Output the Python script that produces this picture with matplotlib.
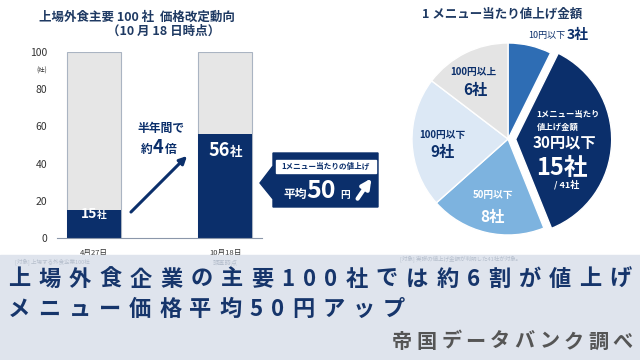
import matplotlib
matplotlib.use('Agg')
import matplotlib.pyplot as plt
from matplotlib.patches import Polygon, Rectangle

plt.rcParams['font.family'] = ['Noto Sans CJK JP', 'DejaVu Sans']

# 棒グラフ: 価格改定した企業数 (100社中)
bar_dates = ['4月27日', '10月18日']
bar_values = [15, 56]
bar_total = [100, 100]

# 円グラフ: 1メニュー当たり値上げ金額 (41社)
pie_labels = ['10円以下', '30円以下', '50円以下', '100円以下', '100円以上']
pie_counts = [3, 15, 8, 9, 6]
pie_colors = ['#2e6db4', '#0b2f6b', '#7db3df', '#dce8f5', '#e4e4e4']

NAVY = '#0b2f6b'
TITLE = '#1f3a63'

fig = plt.figure(figsize=(6.4, 3.6), dpi=100)

# 全体用の重ね軸 (ピクセル座標)
ax0 = fig.add_axes([0, 0, 1, 1], zorder=5)
ax0.set_xlim(0, 640)
ax0.set_ylim(360, 0)
ax0.axis('off')

# --- 棒グラフ ---
ax = fig.add_axes([57 / 640, 1 - 238 / 360, 205 / 640, 186 / 360])
x = list(range(len(bar_dates)))
ax.bar(x, bar_total, width=0.41, color='#e6e6e6', edgecolor='#aab4c2', linewidth=0.8)
ax.bar(x, bar_values, width=0.41, color=NAVY)
ax.set_xlim(-0.281, 1.278)
ax.set_ylim(0, 100)
ax.set_yticks(range(0, 101, 20))
ax.set_xticks(x, bar_dates)
ax.tick_params(axis='y', length=0, labelsize=7.5, labelcolor='#333333', pad=7)
ax.tick_params(axis='x', length=0, labelsize=5.5, labelcolor='#333333', pad=8)
for s in ['top', 'right', 'left']:
    ax.spines[s].set_visible(False)
ax.spines['bottom'].set_color('#8b97aa')
ax.patch.set_alpha(0)

for i, v in enumerate(bar_values):
    big = v > 30
    yb = v - min(v * 0.3, 12)
    ax.annotate(str(v), (i, yb), xytext=(3.2 if big else 2.2, 0), textcoords='offset points',
                ha='right', va='baseline', color='white', weight='bold', fontsize=13 if big else 10)
    ax.annotate('社', (i, yb), xytext=(3.2 if big else 2.2, 0), textcoords='offset points',
                ha='left', va='baseline', color='white', weight='bold', fontsize=9 if big else 7)

ax0.text(137, 17, '上場外食主要 100 社  価格改定動向', ha='center', va='center',
         fontsize=9, weight='bold', color=TITLE)
ax0.text(164, 31, '（10 月 18 日時点）', ha='center', va='center',
         fontsize=9, weight='bold', color=TITLE)
ax0.text(42, 71, '(社)', ha='center', va='center', fontsize=4.5, color='#333333')

# 半年間で約4倍
ax0.annotate('', xy=(189, 154), xytext=(129, 214),
             arrowprops=dict(arrowstyle='-|>', color=NAVY, lw=2.2, mutation_scale=11))
ax0.text(161, 128, '半年間で', ha='center', va='center', fontsize=8.5, weight='bold', color=NAVY)
ax0.text(147, 153, '約', ha='center', va='baseline', fontsize=8.5, weight='bold', color=NAVY)
ax0.text(158, 153, '4', ha='center', va='baseline', fontsize=13, weight='bold', color=NAVY)
ax0.text(171, 153, '倍', ha='center', va='baseline', fontsize=8.5, weight='bold', color=NAVY)

# 吹き出し
ax0.add_patch(Polygon([(273, 153), (378, 153), (378, 207), (273, 207), (273, 199),
                       (260, 183), (273, 166)], closed=True, color=NAVY))
ax0.add_patch(Rectangle((276, 160), 100, 13, color='white'))
ax0.text(326, 166.5, '1メニュー当たりの値上げ', ha='center', va='center',
         fontsize=5.5, weight='bold', color=NAVY)
ax0.text(295, 198, '平均', ha='center', va='baseline', fontsize=8.5, weight='bold', color='white')
ax0.text(321.5, 198, '50', ha='center', va='baseline', fontsize=18, weight='bold', color='white')
ax0.text(345, 198, '円', ha='center', va='baseline', fontsize=7, weight='bold', color='white')
ax0.annotate('', xy=(373, 176), xytext=(356, 201),
             arrowprops=dict(arrowstyle='-|>', color='white', lw=3, mutation_scale=14))

# --- 円グラフ ---
axp = fig.add_axes([412 / 640, 1 - 235 / 360, 192 / 640, 192 / 360])
wedges, _ = axp.pie(pie_counts, colors=pie_colors, startangle=90, counterclock=False,
                    explode=[0, 0.08, 0, 0, 0], radius=1,
                    wedgeprops=dict(edgecolor='white', linewidth=1))
for w in wedges:
    w.set_clip_on(False)
axp.set_xlim(-1, 1)
axp.set_ylim(-1, 1)
axp.set_aspect('equal')

ax0.text(502, 14, '1 メニュー当たり値上げ金額', ha='center', va='center',
         fontsize=9, weight='bold', color=TITLE)


def pie_text(px, py, s, size, color, bold=False, ha='center'):
    axp.text(px, py, s, ha=ha, va='center', fontsize=size, color=color,
             weight='bold' if bold else 'normal', clip_on=False)


pie_text(0.40, 1.08, pie_labels[0], 6.5, NAVY)
pie_text(0.73, 1.08, f'{pie_counts[0]}社', 10, NAVY, True)
pie_text(0.30, 0.25, '1メニュー当たり', 6, 'white', True, ha='left')
pie_text(0.30, 0.12, '値上げ金額', 6, 'white', True, ha='left')
pie_text(0.59, -0.04, pie_labels[1], 11, 'white', True)
pie_text(0.56, -0.30, f'{pie_counts[1]}社', 17, 'white', True)
pie_text(0.61, -0.48, f'/ {sum(pie_counts)}社', 6.5, 'white', True)
pie_text(-0.16, -0.58, pie_labels[2], 7, 'white', True)
pie_text(-0.16, -0.81, f'{pie_counts[2]}社', 11, 'white', True)
pie_text(-0.68, 0.04, pie_labels[3], 7, NAVY, True)
pie_text(-0.68, -0.14, f'{pie_counts[3]}社', 11, NAVY, True)
pie_text(-0.36, 0.70, pie_labels[4], 7, NAVY, True)
pie_text(-0.34, 0.51, f'{pie_counts[4]}社', 11, NAVY, True)

# --- 下部の帯 ---
ax0.add_patch(Rectangle((0, 255), 640, 105, color='#dfe4ed', zorder=0))
ax0.text(15, 262, '[対象] 上場する外食企業100社', ha='left', va='center', fontsize=4, color='#b6bfcd')
ax0.text(225, 262, '調査時点', ha='center', va='center', fontsize=4.5, color='#b6bfcd')
ax0.text(400, 259, '[対象] 実際の値上げ金額が判明した41社が対象。', ha='left', va='center',
         fontsize=4, color='#b6bfcd')

renderer = fig.canvas.get_renderer()


def spaced_text(s, x0, y, x1, **kw):
    items = [ax0.text(0, y, ch, ha='left', va='center', **kw) for ch in s]
    widths = [t.get_window_extent(renderer).width for t in items]
    gap = (x1 - x0 - sum(widths)) / (len(s) - 1)
    pos = x0
    for t, w in zip(items, widths):
        t.set_x(pos)
        pos += w + gap


spaced_text('上場外食企業の主要100社では約6割が値上げ', 8, 279, 632,
            fontsize=16, weight='bold', color='#16356b')
spaced_text('メニュー価格平均50円アップ', 8, 309, 405,
            fontsize=16, weight='bold', color='#16356b')
spaced_text('帝国データバンク調べ', 392, 341, 633,
            fontsize=14.5, weight='bold', color='#555555')

fig.savefig('out.png', dpi=100)
